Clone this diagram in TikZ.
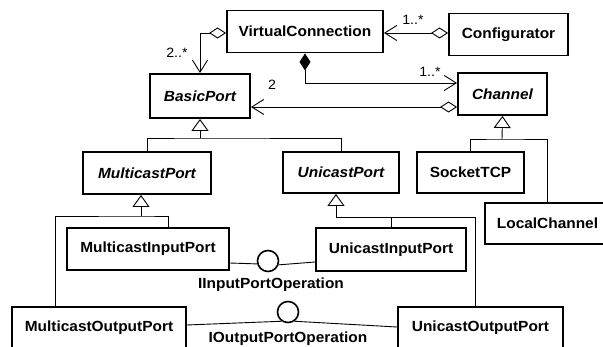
\documentclass[tikz,border=0pt]{standalone}
\usepackage{fontspec}
\setmainfont[FakeStretch=1.05]{Liberation Sans}
\usetikzlibrary{arrows.meta}
\begin{document}
\begin{tikzpicture}[x=1pt,y=-1pt,
  cls/.style={draw, line width=1.9pt, inner sep=0pt, minimum height=42pt,
    font=\fontsize{14.7}{16}\selectfont\bfseries},
  abstr/.style={cls, font=\fontsize{14.7}{16}\selectfont\bfseries\itshape},
  conn/.style={line width=0.9pt},
  agg/.style={conn, {Diamond[open,length=17pt,width=11pt]}-{Straight Barb[length=12pt,width=15pt]}},
  comp/.style={conn, {Diamond[length=17pt,width=11pt]}-{Straight Barb[length=12pt,width=15pt]}},
  gen/.style={conn, -{Triangle[open,length=12pt,width=17pt]}},
  mult/.style={font=\fontsize{13.5}{15}\selectfont, inner sep=0pt},
  iface/.style={draw, circle, line width=1.6pt, minimum size=21pt, inner sep=0pt},
  ilabel/.style={font=\fontsize{14.7}{16}\selectfont\bfseries, inner sep=0pt}]

\useasboundingbox (0,0) rectangle (603,347);
\fill[white] (0,0) rectangle (603,347);
\clip (0,0) rectangle (603,347);

% classes
\node[cls,   minimum width=156pt] (vc)   at (305,31.5)  {VirtualConnection};
\node[cls,   minimum width=119pt] (conf) at (508.5,34.5) {Configurator};
\node[abstr, minimum width=100pt, minimum height=44pt] (bp) at (200,96) {BasicPort};
\node[abstr, minimum width=89pt]  (ch)   at (502.5,94)  {Channel};
\node[abstr, minimum width=128pt] (mp)   at (147,173)   {MulticastPort};
\node[abstr, minimum width=116pt, minimum height=41pt] (up) at (341,172.5) {UnicastPort};
\node[cls,   minimum width=107pt, minimum height=41pt] (st) at (470.5,172.5) {SocketTCP};
\node[cls,   minimum width=125pt, minimum height=41pt] (lc) at (547.5,223.5) {LocalChannel};
\node[cls,   minimum width=162pt] (mip)  at (148,249)   {MulticastInputPort};
\node[cls,   minimum width=150pt, minimum height=43pt] (uip) at (391,249.5) {UnicastInputPort};
\node[cls,   minimum width=174pt] (mop)  at (99,328)    {MulticastOutputPort};
\node[cls,   minimum width=165pt] (uop)  at (480.5,328) {UnicastOutputPort};

% associations
\draw[agg] ([yshift=-1.5pt]vc.west) -| (bp.north);
\node[mult] (m1) at (177,53) {2..*};
\draw[agg] ([yshift=1.5pt]conf.west) -- ([yshift=1.5pt]conf.west -| vc.east);
\node[mult] (m2) at (413,20) {1..*};
\draw[comp] (vc.south) |- ([yshift=11pt]ch.west);
\node[mult] (m3) at (430,72) {1..*};
\draw[agg] ([yshift=-13pt]ch.west) -- ([yshift=-13pt]ch.west -| bp.east);
\node[mult] (m4) at (272,85) {2};

% generalizations
\coordinate (j1) at (200,138);
\draw[conn] (mp.north) |- (j1) -| (up.north);
\draw[gen] (j1) -- (bp.south);

\coordinate (j2) at (141,216);
\draw[conn] ([xshift=20pt]mip.north) |- (j2) -| ([xshift=-44pt]mop.north);
\draw[gen] (j2) -- ([xshift=-6pt]mp.south);

\coordinate (j3) at (336,217);
\draw[conn] ([xshift=-5.5pt]uop.north) |- (j3);
\draw[conn] (uip.north) -- (uip.north |- j3);
\draw[gen] (j3) -- ([xshift=-5pt]up.south);

\coordinate (j4) at (502,139);
\draw[conn] (st.north) |- (j4) -| (lc.north);
\draw[gen] (j4) -- (ch.south);

% provided interfaces
\node[iface] (iin) at (268,261) {};
\node[ilabel] (iinl) at (271,285) {IInputPortOperation};
\draw[conn] ([yshift=-14pt]mip.east) -- (iin.195);
\draw[conn] (iin.-20) -- ([yshift=-12.5pt]uip.west);

\node[iface] (iout) at (288,312) {};
\node[ilabel] (ioutl) at (288,339) {IOutputPortOperation};
\draw[conn] ([yshift=3pt]mop.east) -- (iout.235);
\draw[conn] (iout.305) -- ([yshift=1pt]uop.west);
\end{tikzpicture}
\end{document}
